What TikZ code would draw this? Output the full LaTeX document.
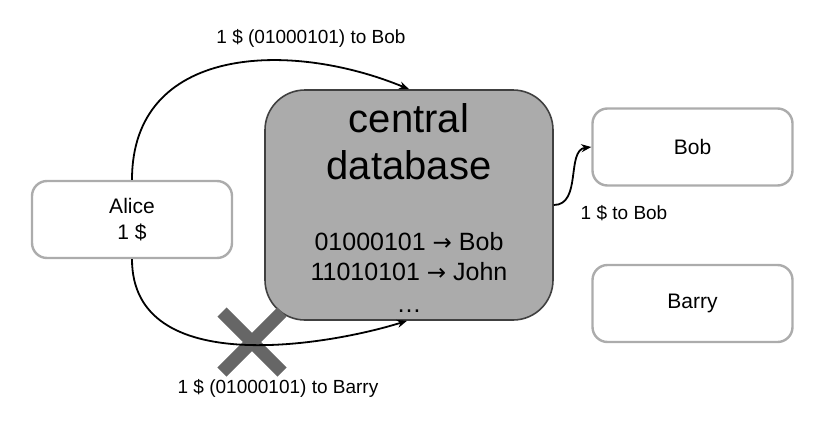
\documentclass[tikz,border=0pt]{standalone}
\usepackage{fontspec}
\setmainfont{Liberation Sans}
\newfontfamily\arrowfont{DejaVu Sans}
\usepackage{tikz}
\usetikzlibrary{arrows.meta}

\newcommand{\goesto}{{\arrowfont\fontsize{11.5}{15}\selectfont →}}

\begin{document}
\begin{tikzpicture}[x=0.5pt,y=-0.5pt,
    party/.style={draw=gray!65, line width=1.2pt, rounded corners=7.5pt, fill=white,
      minimum width=100pt, minimum height=38.5pt, align=center, font=\fontsize{10.5}{13}\selectfont},
    msg/.style={-{Stealth[length=5pt,width=4pt]}, line width=0.9pt},
    lbl/.style={font=\fontsize{9.5}{11}\selectfont}]
    \useasboundingbox (0,0) rectangle (828,428);

    \node[party] (alice) at (132,219.5) {Alice\\1 \$};
    \node[party] (bob) at (692.5,147) {Bob};
    \node[party] (barry) at (692.5,303.5) {Barry};

    \node[draw=black!75, line width=0.8pt, fill=black!33, rounded corners=20pt,
      minimum width=144pt, minimum height=115pt] (db) at (409,205) {};
    \node[font=\fontsize{20}{23.5}\selectfont, align=center] (dbtitle) at (409,142) {central\\database};
    \node[font=\fontsize{12.5}{15}\selectfont, align=center] (dbrows) at (409,272)
      {01000101 \goesto{} Bob\\11010101 \goesto{} John\\[1pt]…};

    % rejected double spend
    \coordinate (cross) at (252,342);
    \draw[line width=6.5pt, black!60] ([shift={(-30,-30)}]cross) -- ([shift={(30,30)}]cross)
      ([shift={(-30,30)}]cross) -- ([shift={(30,-30)}]cross);

    \draw[msg] (alice.north) .. controls (132,45) and (290,40) .. (db.north);
    \draw[msg] (alice.south) .. controls (132,380) and (330,345) .. ([xshift=-1pt]db.south);
    \draw[msg] (db.east) .. controls (582,205) and (566,150) .. (bob.west);

    \node[lbl] (toBob) at (311,38) {1 \$ (01000101) to Bob};
    \node[lbl] (toBarry) at (278,388) {1 \$ (01000101) to Barry};
    \node[lbl] (pay) at (624,213) {1 \$ to Bob};
\end{tikzpicture}
\end{document}
